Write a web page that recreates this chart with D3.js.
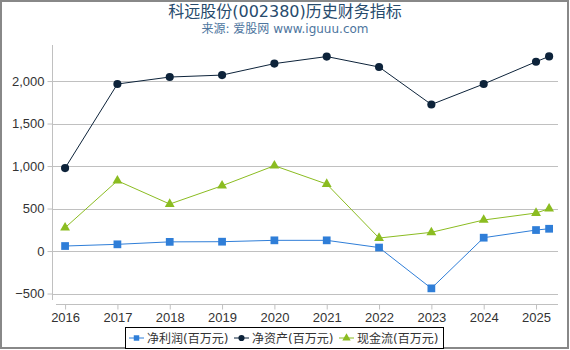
<!DOCTYPE html>
<html lang="zh">
<head>
  <meta charset="utf-8">
  <title>科远股份(002380)历史财务指标</title>
  <style>
    body { margin: 0; background: #fff; }
    svg { display: block; font-family: "DejaVu Sans", "Noto Sans CJK SC", sans-serif; }
    .grid line { stroke: #c0c0c0; stroke-width: 1; }
    .axis text { fill: #333; font-size: 13px; }
  </style>
  <script src="https://d3js.org/d3.v7.min.js"></script>
</head>
<body>
<script>
  // x positions: year ends, plus one extra 2025 point (quarter)
  const periods = [2016, 2017, 2018, 2019, 2020, 2021, 2022, 2023, 2024, 2025, 2025.25]
  const yearTicks = [2016, 2017, 2018, 2019, 2020, 2021, 2022, 2023, 2024, 2025]
  const netProfit = [59, 79, 108, 110, 126, 126, 41, -439, 157, 247, 262]
  const netAssets = [976, 1965, 2047, 2070, 2205, 2288, 2165, 1724, 1965, 2227, 2290]
  const cashFlow = [274, 827, 553, 768, 1004, 788, 153, 220, 365, 447, 498]
  const yTicks = [-500, 0, 500, 1000, 1500, 2000]

  const width = 570, height = 350

  const series = [
    { name: "净利润(百万元)", values: netProfit, color: "#2f7ed8", marker: "square" },
    { name: "净资产(百万元)", values: netAssets, color: "#0d233a", marker: "circle" },
    { name: "现金流(百万元)", values: cashFlow, color: "#8bbc21", marker: "triangle" }
  ]

  const svg = d3.select("body").append("svg")
    .attr("width", width).attr("height", height)

  // frame
  svg.append("rect")
    .attr("x", 1).attr("y", 1).attr("width", 567).attr("height", 347)
    .attr("fill", "#fff").attr("stroke", "#888").attr("stroke-width", 2)

  svg.append("text")
    .attr("x", 285).attr("y", 17).attr("text-anchor", "middle")
    .attr("fill", "#274b6d").attr("font-size", "16px")
    .text("科远股份(002380)历史财务指标")
  svg.append("text")
    .attr("x", 285).attr("y", 33).attr("text-anchor", "middle")
    .attr("fill", "#4d759e").attr("font-size", "12px")
    .text("来源: 爱股网 www.iguuu.com")

  const x = d3.scaleLinear().domain([2015.75, 2025.42]).range([52, 558])
  const y = d3.scaleLinear().domain([-576, 2424]).range([300, 45])

  // gridlines
  svg.append("g").attr("class", "grid")
    .selectAll("line").data(yTicks).join("line")
    .attr("x1", 52).attr("x2", 558)
    .attr("y1", d => Math.round(y(d)) + 0.5).attr("y2", d => Math.round(y(d)) + 0.5)

  // y axis
  const yAxis = svg.append("g").attr("class", "axis")
    .attr("transform", "translate(52.5,0)")
    .call(d3.axisLeft(y).tickValues(yTicks).tickSize(5).tickPadding(3).tickFormat(d3.format(",")))
  yAxis.select(".domain").attr("stroke", "#c0c0c0").attr("d", "M0,45V300")
  yAxis.selectAll(".tick line").attr("stroke", "#c0c0c0").attr("x2", -5)

  // x axis
  const xAxis = svg.append("g").attr("class", "axis")
    .attr("transform", "translate(0,304.5)")
    .call(d3.axisBottom(x).tickValues(yearTicks).tickSize(5).tickPadding(3).tickFormat(d3.format("d")))
  xAxis.select(".domain").attr("stroke", "#c0c0c0").attr("d", "M56,0H558")
  xAxis.selectAll(".tick line").attr("stroke", "#c0c0c0")

  const line = d3.line().x(d => x(d[0])).y(d => y(d[1]))

  const symbolFor = m => m === "square" ? d3.symbolSquare : m === "circle" ? d3.symbolCircle : d3.symbolTriangle
  const sizeFor = m => m === "square" ? 60 : m === "circle" ? 52 : 42

  series.forEach(s => {
    const pts = periods.map((p, i) => [p, s.values[i]])
    svg.append("path").datum(pts)
      .attr("fill", "none").attr("stroke", s.color).attr("stroke-width", 1)
      .attr("d", line)
    svg.append("g").selectAll("path").data(pts).join("path")
      .attr("transform", d => `translate(${x(d[0])},${y(d[1])})`)
      .attr("d", d3.symbol().type(symbolFor(s.marker)).size(sizeFor(s.marker)))
      .attr("fill", s.color)
  })

  // legend
  const legend = svg.append("g")
  legend.append("rect")
    .attr("x", 125.5).attr("y", 327.5).attr("width", 318).attr("height", 21)
    .attr("fill", "#fff").attr("stroke", "#000").attr("stroke-width", 1)
  const itemX = [129, 234, 339]
  series.forEach((s, i) => {
    const g = legend.append("g").attr("transform", `translate(${itemX[i]},338)`)
    g.append("line").attr("x1", 0).attr("x2", 15).attr("stroke", s.color).attr("stroke-width", 1)
    g.append("path").attr("transform", "translate(7.5,0)")
      .attr("d", d3.symbol().type(symbolFor(s.marker)).size(30))
      .attr("fill", s.color)
    g.append("text").attr("x", 18).attr("y", 4.5)
      .attr("font-size", "12px").attr("fill", "#333")
      .text(s.name)
  })
</script>
</body>
</html>
